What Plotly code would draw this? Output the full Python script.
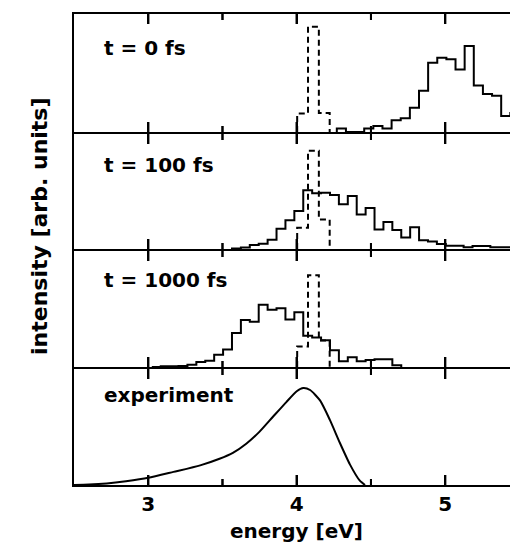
import plotly.graph_objects as go

# ---------------- data ----------------
x_range = [2.5, 5.4364]
major_ticks = [3, 4, 5]
major_labels = ["3", "4", "5"]
minor_ticks = [3.5, 4.5]

# simulated spectra (solid histograms), heights in % of panel height
t0_start, t0_width = 4.27, 0.0615
t0_counts = [3, 0, 0, 3, 5, 3, 10, 11.7, 20.6, 35, 58.6, 63, 61.7, 53, 72.8,
             39.4, 32.2, 30.8, 13.6, 16]

t100_start, t100_width = 3.564, 0.06
t100_counts = [0.5, 1.4, 3.5, 4.5, 8, 17.5, 25, 33, 51, 48.5, 49, 47, 39, 46,
               30, 35.6, 17, 23.4, 16.5, 10, 19, 7.7, 6.6, 4.3, 2.8, 2.8, 1.5,
               2.5, 2.5, 1.5, 1.5, 1.5]

t1000_start, t1000_width = 3.024, 0.06
t1000_counts = [0, 0.6, 0.6, 0.9, 2.0, 4.3, 5.4, 10.6, 15.1, 29.4, 40.6, 39.1,
                53.7, 49.4, 50.6, 40.9, 47.1, 27, 25.5, 23, 14.5, 5, 8.3, 5, 6,
                6.6, 6.6, 1.5]

# dashed histograms (excitation window)
dash_edges = [4.003, 4.076, 4.149, 4.222]
dash_t0 = [15.6, 89.2, 16.1]
dash_t100 = [18.5, 85.5, 25.6]
dash_t1000 = [17.7, 79.2, 22.9]

# experiment curve
exp_energy = [2.5, 2.6, 2.72, 2.85, 3.0, 3.17, 3.35, 3.48, 3.57, 3.66, 3.75,
              3.84, 3.93, 4.0, 4.044, 4.09, 4.157, 4.224, 4.291, 4.358, 4.425,
              4.46]
exp_intensity = [0, 0.4, 1.4, 3.3, 6.2, 11.3, 16.9, 22.6, 27.7, 35.6, 46.0,
                 58.8, 71.5, 80.8, 83.6, 81.9, 72.9, 55.9, 36.2, 17.8, 3.7, 0]

panel_labels = ["t = 0 fs", "t = 100 fs", "t = 1000 fs", "experiment"]


def edges_from(start, width, n):
    return [start + i * width for i in range(n + 1)]


def step_xy(edges, heights):
    xs = [edges[0]] + list(edges[:-1]) + [edges[-1]]
    ys = [0] + list(heights) + [0]
    return xs, ys


def ax_name(kind, n):
    return kind if n == 1 else f"{kind}{n}"


# ---------------- figure ----------------
FONT = "DejaVu Sans, Liberation Sans, Arial"
W, H = 510, 544
LW = 2
ML, MR, MT, MB = 74, 0, 14, 59
PW, PH = W - ML - MR, H - MT - MB
Y_RANGE = [0, 100]
MAJOR_LEN_PX, MINOR_LEN_PX = 10, 6

# divider line centres in pixels; plot areas sit between them
dividers = [13, 133, 250, 368, 486]

fig = go.Figure()

solid = dict(color="black", width=2)
dashed = dict(color="black", width=2, dash="6px,4px")
tick_line = dict(color="black", width=2)

hist_solid = [
    (t0_start, t0_width, t0_counts),
    (t100_start, t100_width, t100_counts),
    (t1000_start, t1000_width, t1000_counts),
]
hist_dash = [dash_t0, dash_t100, dash_t1000]

for i in range(3):
    k = i + 1
    dx, dy = step_xy(dash_edges, hist_dash[i])
    fig.add_trace(go.Scatter(x=dx, y=dy, mode="lines", line=dashed,
                             line_shape="hv", xaxis=ax_name("x", k),
                             yaxis=ax_name("y", k),
                             showlegend=False, hoverinfo="skip"))
    st, wd, cnt = hist_solid[i]
    sx, sy = step_xy(edges_from(st, wd, len(cnt)), cnt)
    fig.add_trace(go.Scatter(x=sx, y=sy, mode="lines", line=solid,
                             line_shape="hv", xaxis=ax_name("x", k),
                             yaxis=ax_name("y", k),
                             showlegend=False, hoverinfo="skip"))

fig.add_trace(go.Scatter(x=exp_energy, y=exp_intensity, mode="lines",
                         line=dict(color="black", width=2, shape="spline",
                                   smoothing=0.6),
                         xaxis="x4", yaxis="y4", showlegend=False,
                         hoverinfo="skip"))

layout = dict(
    width=W, height=H,
    margin=dict(l=ML, r=MR, t=MT, b=MB),
    paper_bgcolor="white", plot_bgcolor="rgba(0,0,0,0)",
    showlegend=False,
)

shapes = []
for k in range(1, 5):
    top = dividers[k - 1] + LW / 2
    bot = dividers[k] - LW / 2
    d0 = (H - MB - bot) / PH
    d1 = (H - MB - top) / PH
    layout[ax_name("xaxis", k)] = dict(
        anchor=ax_name("y", k), range=x_range,
        showline=True, linecolor="black", linewidth=LW, mirror="allticks",
        ticks="inside", ticklen=MAJOR_LEN_PX, tickwidth=2, tickcolor="black",
        tickvals=major_ticks, ticktext=major_labels,
        showticklabels=(k == 4),
        tickfont=dict(family=FONT, size=20, color="black", weight="bold"),
        showgrid=False, zeroline=False,
    )
    layout[ax_name("yaxis", k)] = dict(
        domain=[max(0, d0), min(1, d1)], anchor=ax_name("x", k),
        range=Y_RANGE,
        showline=True, linecolor="black", linewidth=LW, mirror=False,
        ticks="", showticklabels=False, showgrid=False, zeroline=False,
    )

    # inward tick marks at the tick values, on the bottom and top edge
    panel_px = bot - top
    units_per_px = (Y_RANGE[1] - Y_RANGE[0]) / panel_px
    for vals, lpx in ((major_ticks, MAJOR_LEN_PX), (minor_ticks, MINOR_LEN_PX)):
        frac = lpx / panel_px
        ln = lpx * units_per_px
        for v in vals:
            for y0, y1 in ((0, frac), (1, 1 - frac)):
                shapes.append(dict(type="line", layer="above",
                                   xref=ax_name("x", k),
                                   yref=ax_name("y", k) + " domain",
                                   x0=v, x1=v, y0=y0, y1=y1, line=tick_line))
            for y0, y1 in ((Y_RANGE[0], Y_RANGE[0] + ln),
                           (Y_RANGE[1], Y_RANGE[1] - ln)):
                fig.add_trace(go.Scatter(x=[v, v], y=[y0, y1], mode="lines",
                                         line=tick_line, cliponaxis=False,
                                         xaxis=ax_name("x", k),
                                         yaxis=ax_name("y", k),
                                         showlegend=False, hoverinfo="skip"))

layout["shapes"] = shapes
fig.update_layout(**layout)


def px_to_paper_x(px):
    return (px - ML) / PW


def px_to_paper_y(py):
    return (H - MB - py) / PH


label_centers = [48, 165, 280, 395]
for txt, cy in zip(panel_labels, label_centers):
    fig.add_annotation(text=txt, xref="paper", yref="paper",
                       x=px_to_paper_x(102), y=px_to_paper_y(cy),
                       xanchor="left", yanchor="middle", showarrow=False,
                       font=dict(family=FONT, size=20, color="black",
                                 weight="bold"))

fig.add_annotation(text="energy [eV]", xref="x4", yref="paper",
                   x=4.0, y=px_to_paper_y(531), xanchor="center",
                   yanchor="middle", showarrow=False,
                   font=dict(family=FONT, size=20, color="black",
                             weight="bold"))

fig.add_annotation(text="intensity [arb. units]", xref="paper", yref="paper",
                   x=px_to_paper_x(39), y=px_to_paper_y(226),
                   xanchor="center", yanchor="middle", textangle=-90,
                   showarrow=False,
                   font=dict(family=FONT, size=22, color="black",
                             weight="bold"))

fig.write_html("out.html")
